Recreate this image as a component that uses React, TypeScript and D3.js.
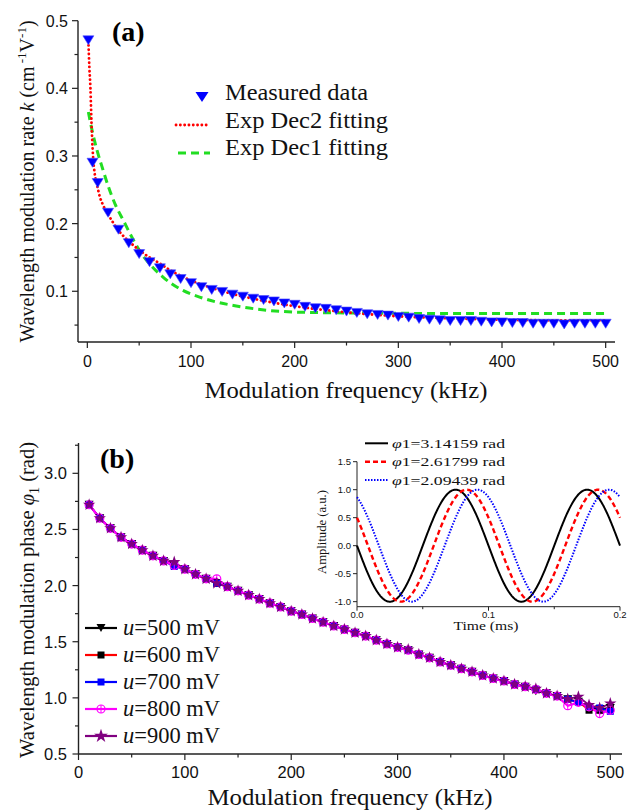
import React from 'react';
import * as d3 from 'd3';

// ---------- Panel (a) data ----------
const kFreq = [1, 5, 10, 20, 30, 40, 50, 60, 70, 80, 90, 100, 110, 120, 130, 140, 150, 160, 170, 180, 190, 200, 210, 220, 230, 240, 250, 260, 270, 280, 290, 300, 310, 320, 330, 340, 350, 360, 370, 380, 390, 400, 410, 420, 430, 440, 450, 460, 470, 480, 490, 500];
const kMeasured = [0.471, 0.29, 0.26, 0.216, 0.191, 0.171, 0.155, 0.143, 0.134, 0.125, 0.118, 0.112, 0.106, 0.102, 0.099, 0.095, 0.092, 0.089, 0.087, 0.085, 0.082, 0.080, 0.077, 0.075, 0.074, 0.072, 0.070, 0.068, 0.066, 0.065, 0.064, 0.062, 0.061, 0.059, 0.058, 0.057, 0.056, 0.056, 0.056, 0.055, 0.054, 0.054, 0.053, 0.053, 0.052, 0.052, 0.052, 0.051, 0.052, 0.052, 0.052, 0.052];
const dec2Freq = [1, 2, 3, 4, 5.5, 7, 9, 12, 15, 20, 30, 40, 50, 60, 70, 80, 90, 100, 120, 140, 160, 180, 200, 250, 300, 350, 400, 450, 500];
const dec2Fit = [0.47, 0.43, 0.40, 0.35, 0.30, 0.275, 0.26, 0.24, 0.228, 0.214, 0.19, 0.174, 0.161, 0.15, 0.141, 0.131, 0.123, 0.116, 0.105, 0.096, 0.089, 0.083, 0.078, 0.069, 0.063, 0.060, 0.058, 0.057, 0.057];
const dec1Freq = [1, 5, 10, 15, 20, 27, 35, 44, 52, 61, 73, 90, 109, 125, 141, 173, 205, 250, 300, 350, 400, 450, 500];
const dec1Fit = [0.365, 0.335, 0.305, 0.28, 0.256, 0.228, 0.204, 0.177, 0.156, 0.139, 0.121, 0.103, 0.091, 0.084, 0.079, 0.072, 0.069, 0.068, 0.0675, 0.067, 0.067, 0.067, 0.067];
const aXTicks = [0, 100, 200, 300, 400, 500];
const aXMinor = [50, 150, 250, 350, 450];
const aYTicks = [0.1, 0.2, 0.3, 0.4, 0.5];
const aYMinor = [0.05, 0.15, 0.25, 0.35, 0.45];
const aLegend = ['Measured data', 'Exp Dec2 fitting', 'Exp Dec1 fitting'];

// ---------- Panel (b) data ----------
const phaseFreq = [10, 20, 30, 40, 50, 60, 70, 80, 90, 100, 110, 120, 130, 140, 150, 160, 170, 180, 190, 200, 210, 220, 230, 240, 250, 260, 270, 280, 290, 300, 310, 320, 330, 340, 350, 360, 370, 380, 390, 400, 410, 420, 430, 440, 450, 460, 470, 480, 490, 500];
const phase500 = [2.72, 2.60, 2.51, 2.43, 2.37, 2.315, 2.265, 2.22, 2.18, 2.146, 2.10, 2.06, 2.02, 1.99, 1.953, 1.915, 1.88, 1.843, 1.81, 1.772, 1.743, 1.707, 1.674, 1.64, 1.61, 1.58, 1.55, 1.514, 1.48, 1.45, 1.425, 1.387, 1.357, 1.32, 1.29, 1.26, 1.232, 1.20, 1.173, 1.15, 1.12, 1.10, 1.06, 1.04, 1.016, 0.987, 0.965, 0.91, 0.90, 0.91];
const phase600 = [2.72, 2.60, 2.51, 2.43, 2.37, 2.315, 2.265, 2.22, 2.18, 2.146, 2.10, 2.06, 2.02, 1.99, 1.953, 1.915, 1.88, 1.843, 1.81, 1.772, 1.743, 1.707, 1.674, 1.64, 1.61, 1.58, 1.55, 1.514, 1.48, 1.45, 1.425, 1.387, 1.357, 1.32, 1.29, 1.26, 1.232, 1.20, 1.173, 1.15, 1.12, 1.10, 1.076, 1.04, 1.016, 0.987, 0.965, 0.89, 0.89, 0.90];
const phase700 = [2.72, 2.60, 2.51, 2.43, 2.37, 2.315, 2.265, 2.22, 2.17, 2.146, 2.10, 2.06, 2.02, 1.99, 1.953, 1.915, 1.88, 1.843, 1.81, 1.772, 1.743, 1.707, 1.674, 1.64, 1.61, 1.58, 1.55, 1.514, 1.48, 1.45, 1.425, 1.387, 1.357, 1.32, 1.29, 1.26, 1.232, 1.20, 1.173, 1.15, 1.12, 1.10, 1.076, 1.04, 1.016, 0.987, 0.96, 0.92, 0.91, 0.88];
const phase800 = [2.72, 2.60, 2.51, 2.43, 2.37, 2.315, 2.265, 2.22, 2.18, 2.146, 2.10, 2.06, 2.06, 1.99, 1.953, 1.915, 1.88, 1.843, 1.81, 1.772, 1.743, 1.707, 1.674, 1.64, 1.61, 1.58, 1.55, 1.514, 1.48, 1.45, 1.425, 1.387, 1.357, 1.32, 1.29, 1.26, 1.232, 1.20, 1.173, 1.15, 1.12, 1.10, 1.076, 1.04, 1.016, 0.93, 0.96, 0.92, 0.86, 0.89];
const phase900 = [2.72, 2.60, 2.51, 2.43, 2.37, 2.315, 2.265, 2.22, 2.21, 2.146, 2.10, 2.06, 2.02, 1.99, 1.953, 1.915, 1.88, 1.843, 1.81, 1.772, 1.743, 1.707, 1.674, 1.64, 1.61, 1.58, 1.55, 1.514, 1.48, 1.45, 1.43, 1.387, 1.357, 1.32, 1.29, 1.26, 1.232, 1.20, 1.173, 1.15, 1.12, 1.10, 1.08, 1.04, 1.016, 0.99, 1.01, 0.936, 0.91, 0.95];
const bXTicks = [0, 100, 200, 300, 400, 500];
const bXMinor = [50, 150, 250, 350, 450];
const bYTicks = [0.5, 1.0, 1.5, 2.0, 2.5, 3.0];
const bYMinor = [0.75, 1.25, 1.75, 2.25, 2.75, 3.25];
const bLegend = ['500', '600', '700', '800', '900'];

// ---------- Inset data ----------
const insetPhases = [3.14159, 2.61799, 2.09439];
const insetPhaseLabels = ['3.14159', '2.61799', '2.09439'];
const insetFreqKHz = 10;
const insetXTicks = [0, 0.1, 0.2];
const insetXMinor = [0.05, 0.15];
const insetYTicks = [-1.0, -0.5, 0.0, 0.5, 1.0, 1.5];

const SERIF = "'Liberation Serif','Times New Roman',serif";
const SANS = "'Liberation Sans',Arial,sans-serif";
const AX = '#222';

function triDown(cx: number, cy: number, w: number, h: number) {
  return `M${cx - w / 2},${cy - h / 2}L${cx + w / 2},${cy - h / 2}L${cx},${cy + h / 2}Z`;
}
const starPath = d3.symbol().type(d3.symbolStar).size(48)() as string;
const starPathL = d3.symbol().type(d3.symbolStar).size(60)() as string;

type Marker = 'tri' | 'sqK' | 'sqB' | 'circ' | 'star';
const bColors = ['#000000', '#ff0000', '#0000ff', '#ff00ff', '#800080'];
const bMarkers: Marker[] = ['tri', 'sqK', 'sqB', 'circ', 'star'];

function drawMarker(m: Marker, x: number, y: number, key: string, legend = false) {
  switch (m) {
    case 'tri':
      return <path key={key} d={triDown(x, y, 9, 8)} fill="#000" />;
    case 'sqK':
      return <rect key={key} x={x - 3.5} y={y - 3.5} width={7} height={7} fill="#000" />;
    case 'sqB':
      return <rect key={key} x={x - 3.5} y={y - 3.5} width={7} height={7} fill="#0000ff" />;
    case 'circ':
      return (
        <g key={key}>
          <circle cx={x} cy={y} r={4} fill="none" stroke="#ff00ff" strokeWidth={1.2} />
          <line x1={x} x2={x} y1={y - 4} y2={y + 4} stroke="#ff00ff" strokeWidth={1} />
        </g>
      );
    case 'star':
      return <path key={key} d={legend ? starPathL : starPath} transform={`translate(${x},${y})`} fill="#800080" />;
  }
}

export default function App() {
  const xA = d3.scaleLinear().domain([-9, 509]).range([78, 615]);
  const yA = d3.scaleLinear().domain([0.025, 0.5]).range([342, 20.7]);
  const xB = d3.scaleLinear().domain([0, 511]).range([78.5, 622]);
  const yB = d3.scaleLinear().domain([0.5, 3.27]).range([754, 443]);
  const xI = d3.scaleLinear().domain([0, 0.2]).range([357, 620]);
  const yI = d3.scaleLinear().domain([-1.09, 1.5]).range([606.7, 461.7]);

  const lineA = d3.line<[number, number]>().x(d => xA(d[0])).y(d => yA(d[1])).curve(d3.curveMonotoneX);
  const lineB = d3.line<[number, number]>().x(d => xB(d[0])).y(d => yB(d[1]));
  const lineI = d3.line<[number, number]>().x(d => xI(d[0])).y(d => yI(d[1]));

  const dec2Pts = dec2Freq.map((f, i) => [f, dec2Fit[i]] as [number, number]);
  const dec1Pts = dec1Freq.map((f, i) => [f, dec1Fit[i]] as [number, number]);
  const bSeries = [phase500, phase600, phase700, phase800, phase900];

  const tSamples = d3.range(0, 0.2 + 1e-9, 0.0005);
  const insetCurves = insetPhases.map(p => tSamples.map(t => [t, Math.sin(2 * Math.PI * insetFreqKHz * t + p)] as [number, number]));
  const insetStyles = [
    { stroke: '#000', dash: undefined as string | undefined, w: 2 },
    { stroke: '#ff0000', dash: '5,3', w: 2.4 },
    { stroke: '#0000ff', dash: '1.5,1.5', w: 2 },
  ];

  const lineOrder = [0, 1, 2, 4, 3];

  return (
    <svg width={627} height={810} style={{ position: 'absolute', left: 0, top: 0, background: '#fff' }}>
      <rect x={0} y={0} width={627} height={810} fill="#fff" />

      {/* ================= Panel (a) ================= */}
      <g>
        <line x1={xA.range()[0]} x2={xA.range()[0]} y1={yA.range()[0]} y2={yA.range()[1]} stroke={AX} strokeWidth={1.4} />
        <line x1={xA.range()[0]} x2={xA.range()[1]} y1={yA.range()[0]} y2={yA.range()[0]} stroke={AX} strokeWidth={1.4} />
        {aXTicks.map(t => (
          <g key={'ax' + t}>
            <line x1={xA(t)} x2={xA(t)} y1={yA.range()[0]} y2={yA.range()[0] + 6} stroke={AX} strokeWidth={1.2} />
            <text x={xA(t)} y={367} textAnchor="middle" fontFamily={SANS} fontSize={16} fill="#111">{t}</text>
          </g>
        ))}
        {aXMinor.map(t => (
          <line key={'axm' + t} x1={xA(t)} x2={xA(t)} y1={yA.range()[0]} y2={yA.range()[0] + 3.5} stroke={AX} strokeWidth={1.2} />
        ))}
        {aYTicks.map(t => (
          <g key={'ay' + t}>
            <line x1={xA.range()[0] - 6} x2={xA.range()[0]} y1={yA(t)} y2={yA(t)} stroke={AX} strokeWidth={1.2} />
            <text x={68} y={yA(t) + 6} textAnchor="end" fontFamily={SANS} fontSize={16} fill="#111">{t.toFixed(1)}</text>
          </g>
        ))}
        {aYMinor.map(t => (
          <line key={'aym' + t} x1={xA.range()[0] - 3.5} x2={xA.range()[0]} y1={yA(t)} y2={yA(t)} stroke={AX} strokeWidth={1.2} />
        ))}

        <path d={lineA(dec1Pts) as string} fill="none" stroke="#22dd22" strokeWidth={3} strokeDasharray="8,5" />
        <path d={lineA(dec2Pts) as string} fill="none" stroke="#ff0000" strokeWidth={2.8} strokeDasharray="0.1,4.2" strokeLinecap="round" />
        {kFreq.map((f, i) => (
          <path key={'km' + i} d={triDown(xA(f), yA(kMeasured[i]), 11, 9)} fill="#0000ff" stroke="#4a4aff" strokeWidth={0.6} />
        ))}

        <text x={112} y={41} fontFamily={SERIF} fontWeight="bold" fontSize={28} fill="#000">(a)</text>

        <path d={triDown(202, 97, 13, 10)} fill="#0000ff" />
        <line x1={176} x2={210} y1={125} y2={125} stroke="#ff0000" strokeWidth={2.8} strokeDasharray="0.1,4.2" strokeLinecap="round" />
        <line x1={178} x2={210} y1={153} y2={153} stroke="#22dd22" strokeWidth={3} strokeDasharray="8,5" />
        {aLegend.map((s, i) => (
          <text key={'al' + i} x={225} y={100 + i * 27.5} fontFamily={SERIF} fontSize={23} fill="#111"
            textLength={i === 0 ? 143 : 163} lengthAdjust="spacingAndGlyphs">{s}</text>
        ))}

        <text x={346} y={398} textAnchor="middle" fontFamily={SERIF} fontSize={23} fill="#111" textLength={283} lengthAdjust="spacingAndGlyphs">Modulation frequency (kHz)</text>
        <text transform="translate(34,181.5) rotate(-90)" textAnchor="middle" fontFamily={SERIF} fontSize={20} fill="#111">
          Wavelength modulation rate <tspan fontStyle="italic">k</tspan> (cm
          <tspan dy={-8} fontSize={13}> -1</tspan>
          <tspan dy={8}>V</tspan>
          <tspan dy={-8} fontSize={13}>-1</tspan>
          <tspan dy={8}>)</tspan>
        </text>
      </g>

      {/* ================= Panel (b) ================= */}
      <g>
        <line x1={xB.range()[0]} x2={xB.range()[0]} y1={yB.range()[0]} y2={yB.range()[1]} stroke={AX} strokeWidth={1.4} />
        <line x1={xB.range()[0]} x2={xB.range()[1]} y1={yB.range()[0]} y2={yB.range()[0]} stroke={AX} strokeWidth={1.4} />
        {bXTicks.map(t => (
          <g key={'bx' + t}>
            <line x1={xB(t)} x2={xB(t)} y1={yB.range()[0]} y2={yB.range()[0] + 6} stroke={AX} strokeWidth={1.2} />
            <text x={xB(t)} y={778} textAnchor="middle" fontFamily={SANS} fontSize={16.5} fill="#111">{t}</text>
          </g>
        ))}
        {bXMinor.map(t => (
          <line key={'bxm' + t} x1={xB(t)} x2={xB(t)} y1={yB.range()[0]} y2={yB.range()[0] + 3.5} stroke={AX} strokeWidth={1.2} />
        ))}
        {bYTicks.map(t => (
          <g key={'by' + t}>
            <line x1={xB.range()[0] - 6} x2={xB.range()[0]} y1={yB(t)} y2={yB(t)} stroke={AX} strokeWidth={1.2} />
            <text x={67} y={yB(t) + 6} textAnchor="end" fontFamily={SANS} fontSize={16.5} fill="#111">{t.toFixed(1)}</text>
          </g>
        ))}
        {bYMinor.map(t => (
          <line key={'bym' + t} x1={xB.range()[0] - 3.5} x2={xB.range()[0]} y1={yB(t)} y2={yB(t)} stroke={AX} strokeWidth={1.2} />
        ))}

        {lineOrder.map(si => (
          <path key={'bl' + si} d={lineB(phaseFreq.map((f, i) => [f, bSeries[si][i]] as [number, number])) as string}
            fill="none" stroke={bColors[si]} strokeWidth={si === 3 ? 2.2 : 1.8} />
        ))}
        {bSeries.map((s, si) => (
          <g key={'bm' + si}>
            {phaseFreq.map((f, i) => drawMarker(bMarkers[si], xB(f), yB(s[i]), `m${si}-${i}`))}
          </g>
        ))}

        <text x={100} y={468} fontFamily={SERIF} fontWeight="bold" fontSize={28} fill="#000">(b)</text>

        {bLegend.map((v, i) => {
          const cy = 628 + i * 27;
          return (
            <g key={'blg' + i}>
              <line x1={85} x2={117} y1={cy} y2={cy} stroke={bColors[i]} strokeWidth={2.2} />
              {drawMarker(bMarkers[i], 101, cy, 'lgm' + i, true)}
              <text x={123} y={cy + 6.5} fontFamily={SERIF} fontSize={22.5} fill="#111" textLength={97} lengthAdjust="spacingAndGlyphs">
                <tspan fontStyle="italic">u</tspan>={v} mV
              </text>
            </g>
          );
        })}

        <text x={350} y={805} textAnchor="middle" fontFamily={SERIF} fontSize={23} fill="#111" textLength={285} lengthAdjust="spacingAndGlyphs">Modulation frequency (kHz)</text>
        <text transform="translate(34,600) rotate(-90)" textAnchor="middle" fontFamily={SERIF} fontSize={20.5} fill="#111">
          Wavelength modulation phase <tspan fontStyle="italic">φ</tspan>
          <tspan dy={5} fontSize={14}>1</tspan>
          <tspan dy={-5}>  (rad)</tspan>
        </text>

        {/* ---------- inset ---------- */}
        <line x1={xI.range()[0]} x2={xI.range()[0]} y1={yI.range()[0]} y2={yI.range()[1]} stroke={AX} strokeWidth={1} />
        <line x1={xI.range()[0]} x2={xI.range()[1]} y1={yI.range()[0]} y2={yI.range()[0]} stroke={AX} strokeWidth={1} />
        {insetYTicks.map(t => (
          <g key={'iy' + t}>
            <line x1={xI.range()[0] - 4} x2={xI.range()[0]} y1={yI(t)} y2={yI(t)} stroke={AX} strokeWidth={1} />
            <text x={351} y={yI(t) + 3.5} textAnchor="end" fontFamily={SANS} fontSize={9.5} fill="#111">{t.toFixed(1)}</text>
          </g>
        ))}
        {insetXTicks.map(t => (
          <g key={'ix' + t}>
            <line x1={xI(t)} x2={xI(t)} y1={yI.range()[0]} y2={yI.range()[0] + 4} stroke={AX} strokeWidth={1} />
            <text x={xI(t)} y={618} textAnchor="middle" fontFamily={SANS} fontSize={9.5} fill="#111">{t.toFixed(1)}</text>
          </g>
        ))}
        {insetXMinor.map(t => (
          <line key={'ixm' + t} x1={xI(t)} x2={xI(t)} y1={yI.range()[0]} y2={yI.range()[0] + 2.5} stroke={AX} strokeWidth={1} />
        ))}
        {insetCurves.map((c, i) => (
          <path key={'ic' + i} d={lineI(c) as string} fill="none" stroke={insetStyles[i].stroke}
            strokeWidth={insetStyles[i].w} strokeDasharray={insetStyles[i].dash} />
        ))}
        <text x={486} y={630} textAnchor="middle" fontFamily={SERIF} fontSize={12} fill="#111" textLength={65} lengthAdjust="spacingAndGlyphs">Time (ms)</text>
        <text transform="translate(326,532) rotate(-90)" textAnchor="middle" fontFamily={SERIF} fontSize={11.5} fill="#111" textLength={84} lengthAdjust="spacingAndGlyphs">Amplitude (a.u.)</text>
        {insetPhaseLabels.map((p, i) => {
          const cy = 443.3 + i * 18.4;
          return (
            <g key={'il' + i}>
              <line x1={365} x2={388} y1={cy} y2={cy} stroke={insetStyles[i].stroke} strokeWidth={insetStyles[i].w}
                strokeDasharray={insetStyles[i].dash} />
              <text x={392} y={cy + 4.5} fontFamily={SERIF} fontSize={13.5} fill="#111" textLength={113} lengthAdjust="spacingAndGlyphs">
                <tspan fontStyle="italic">φ</tspan>1={p} rad
              </text>
            </g>
          );
        })}
      </g>
    </svg>
  );
}
